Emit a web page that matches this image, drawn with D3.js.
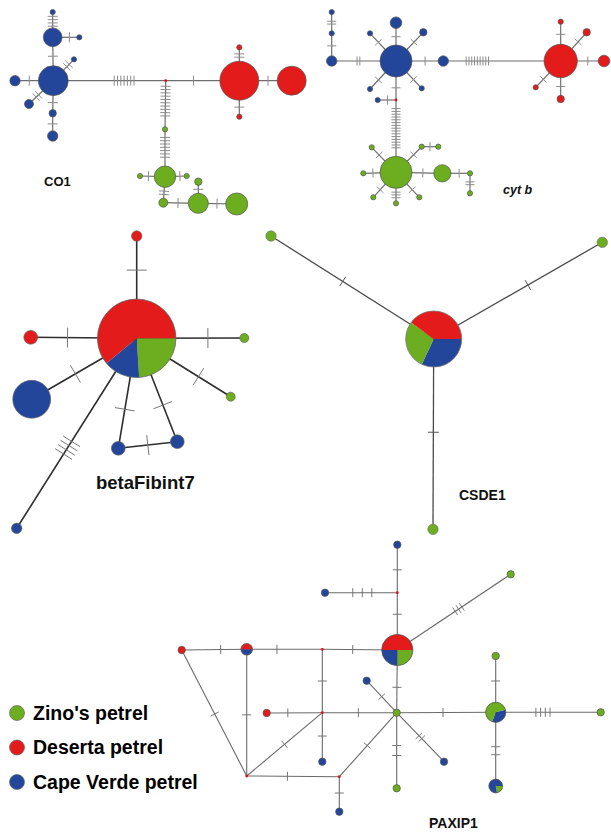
<!DOCTYPE html>
<html>
<head>
<meta charset="utf-8">
<script src="https://cdn.jsdelivr.net/npm/d3@7"></script>
<style>
  body { margin: 0; background: #fff; }
  svg { display: block; font-family: 'Liberation Sans', Arial, sans-serif; }
</style>
</head>
<body>
<svg id="fig"></svg>
<script>
/* global d3 */

const svgWidth = 611
const svgHeight = 833

// Species (legend order) and their colours
const speciesCodes = ['z', 'd', 'c']
const speciesNames = ["Zino's petrel", 'Deserta petrel', 'Cape Verde petrel']
const speciesColors = ['#6cae1f', '#e31b1b', '#23469b']

// Haplotype networks. Nodes: [id, layout x, layout y, sample count, species or pie shares]
// 'mv' marks a median vector (unsampled haplotype).
// Edges: [from, to, mutation steps, tick position (fraction) or null, tick gap or null]
const co1Nodes = [
  ['a', 53.3, 80.7, 33, 'c'], ['b', 52.7, 37.3, 13, 'c'], ['b1', 52.7, 12, 1, 'c'],
  ['b2', 79.3, 37.3, 1, 'c'], ['e', 74, 59.3, 1, 'c'], ['f', 15, 80.7, 4, 'c'],
  ['g', 29, 104, 3, 'c'], ['h', 52.7, 113.3, 2, 'c'], ['i', 52.7, 136, 4, 'c'],
  ['mv1', 165.7, 80.7, 0, 'mv'],
  ['k', 239.3, 80.7, 56, 'd'], ['l', 291.7, 80.7, 31, 'd'], ['m', 239.3, 47.3, 1, 'd'],
  ['o', 239.3, 116.7, 1, 'd'],
  ['p', 165, 129.3, 1, 'z'], ['q', 165, 176.7, 17, 'z'], ['r', 140, 176, 1, 'z'],
  ['s', 186.7, 176, 1, 'z'], ['t', 163.3, 202.7, 3, 'z'], ['u', 198.3, 203.3, 15, 'z'],
  ['v', 236.7, 204, 18, 'z'], ['w', 198.3, 181.7, 2, 'z']
]
const co1Edges = [
  ['a', 'b', 1], ['b', 'b1', 4], ['b', 'b2', 1], ['a', 'e', 2], ['a', 'f', 1], ['a', 'g', 2],
  ['a', 'h', 1], ['h', 'i', 1], ['a', 'mv1', 7, 0.63], ['mv1', 'k', 1], ['k', 'l', 1],
  ['k', 'm', 2], ['k', 'o', 1], ['mv1', 'p', 10, 0.42], ['p', 'q', 7, 0.38], ['q', 'r', 1],
  ['q', 's', 1], ['q', 't', 2], ['t', 'u', 1], ['u', 'v', 1], ['u', 'w', 1]
]

const cytbNodes = [
  ['A', 86, 61, 38, 'c'], ['B', 86, 22.7, 5, 'c'], ['C', 113.3, 32.3, 2, 'c'],
  ['D', 60, 33.3, 1, 'c'], ['E', 133.3, 61, 4, 'c'], ['F', 21.7, 61, 4, 'c'],
  ['G', 21.7, 33.3, 1, 'c'], ['H', 21.7, 12, 1, 'c'], ['I', 60, 89, 1, 'c'],
  ['K', 111.7, 88.3, 1, 'c'], ['mv1', 86, 100, 0, 'mv'], ['L', 67.7, 100, 1, 'c'],
  ['N', 250.7, 61, 41, 'd'], ['O', 250.7, 21.7, 1, 'd'], ['P', 276.7, 32.3, 2, 'd'],
  ['Q', 294, 61, 5, 'd'], ['R', 225.7, 87.3, 1, 'd'], ['S', 250.7, 99, 2, 'd'],
  ['M', 86, 172.3, 38, 'z'], ['T', 61.7, 147.3, 1, 'z'], ['U', 111.7, 146.7, 1, 'z'],
  ['V', 128.3, 146.7, 1, 'z'], ['W', 53.3, 173.3, 1, 'z'], ['X', 132.3, 173.3, 11, 'z'],
  ['Y', 160, 173.3, 1, 'z'], ['Z', 160, 193.3, 1, 'z'], ['AA', 63.3, 197.3, 1, 'z'],
  ['AB', 109.3, 197.3, 1, 'z'], ['AC', 86, 203.3, 1, 'z']
]
const cytbEdges = [
  ['A', 'B', 1], ['A', 'C', 1], ['A', 'D', 1], ['A', 'E', 1], ['A', 'F', 2], ['F', 'G', 1],
  ['G', 'H', 2], ['A', 'I', 1], ['A', 'K', 1], ['A', 'mv1', 1], ['mv1', 'L', 1],
  ['mv1', 'M', 15, 0.39], ['E', 'N', 9, 0.29], ['N', 'O', 1], ['N', 'P', 1], ['N', 'Q', 1],
  ['N', 'R', 1], ['N', 'S', 1], ['M', 'T', 1], ['M', 'U', 1], ['U', 'V', 1], ['M', 'W', 1],
  ['M', 'X', 1], ['X', 'Y', 1], ['Y', 'Z', 2], ['M', 'AA', 1], ['M', 'AB', 1],
  ['M', 'AC', 3, 0.73]
]

const fibNodes = [
  ['hub', 136.7, 118.3, 228, [['z', 0.24], ['c', 0.15], ['d', 0.61]]],
  ['r1', 136.7, 16, 4, 'd'], ['r2', 30.7, 117.3, 7, 'd'], ['g1', 244.3, 118, 3, 'z'],
  ['g2', 230.7, 176.7, 3, 'z'], ['c1', 31.7, 179.3, 53, 'c'], ['c2', 118.3, 228.3, 7, 'c'],
  ['c3', 177.3, 221.7, 7, 'c'], ['c4', 16.7, 308.3, 4, 'c']
]
const fibEdges = [
  ['hub', 'r1', 1], ['hub', 'r2', 1], ['hub', 'g1', 1], ['hub', 'g2', 1], ['hub', 'c1', 1],
  ['hub', 'c2', 1], ['hub', 'c3', 1], ['c2', 'c3', 1], ['hub', 'c4', 4]
]

const csdeNodes = [
  ['hub', 173.7, 119, 116, [['c', 0.32], ['z', 0.28], ['d', 0.40]]],
  ['g1', 11, 16, 4, 'z'], ['g2', 342.3, 22.3, 4, 'z'], ['g3', 173, 309.3, 4, 'z']
]
const csdeEdges = [['hub', 'g1', 1], ['hub', 'g2', 1], ['hub', 'g3', 1, 0.49]]

const paxNodes = [
  ['P', 237.3, 120, 36, [['z', 0.25], ['c', 0.25], ['d', 0.5]]],
  ['p1', 237.3, 14.7, 2, 'c'], ['mv1', 237.3, 62.7, 0, 'mv'], ['p2', 165, 62.7, 2, 'c'],
  ['p3', 350.7, 44.3, 2, 'z'], ['mv2', 162.3, 119.3, 0, 'mv'],
  ['p4', 86.7, 119.3, 5, [['c', 0.5], ['d', 0.5]]], ['p5', 21.7, 120, 2, 'd'],
  ['mv3', 86.7, 246, 0, 'mv'], ['mv4', 162.3, 182.7, 0, 'mv'], ['mv5', 179.3, 246.7, 0, 'mv'],
  ['p6', 179.3, 281.7, 2, 'c'], ['p7', 236.7, 182.7, 2, 'z'], ['p8', 162.3, 231.7, 2, 'c'],
  ['p9', 106.7, 183, 2, 'd'], ['p10', 206.7, 150.7, 2, 'c'], ['p11', 284, 231.7, 2, 'c'],
  ['p12', 236.7, 258.3, 2, 'z'],
  ['P2', 335.7, 182.3, 15, [['c', 0.35], ['z', 0.65]]],
  ['p13', 335.7, 126, 2, 'z'], ['p14', 440.7, 182.3, 2, 'z'],
  ['p15', 335.7, 256, 7, [['z', 0.22], ['c', 0.78]]]
]
const paxEdges = [
  ['P', 'mv1', 1], ['mv1', 'p1', 1], ['mv1', 'p2', 3, null, 9.5], ['P', 'p3', 3, 0.54],
  ['P', 'mv2', 1], ['mv2', 'p4', 1, 0.6], ['p4', 'p5', 1, 0.4], ['p5', 'mv3', 1],
  ['p4', 'mv3', 1], ['mv3', 'mv4', 1], ['mv3', 'mv5', 1, 0.44], ['mv5', 'p6', 1],
  ['mv5', 'p7', 1], ['mv2', 'mv4', 1], ['mv4', 'p8', 1], ['p9', 'mv4', 1, 0.38],
  ['mv4', 'p7', 1], ['P', 'p7', 1], ['p7', 'p10', 1], ['p7', 'p11', 2],
  ['p7', 'p12', 2, null, 10], ['p7', 'P2', 1], ['P2', 'p13', 1], ['P2', 'p14', 4, 0.45, 4.7],
  ['P2', 'p15', 2, null, 8]
]

// Pie start angle (degrees, clockwise from 12 o'clock) for the mixed haplotypes
const pieStart = { fib_hub: 90, csde_hub: 90, pax_P: 90, pax_p4: 90, pax_P2: 75, pax_p15: 90 }

const colorOf = Object.fromEntries(speciesCodes.map((c, i) => [c, speciesColors[i]]))

// Radius proportional to the square root of the sample count
const rScale = d3.scaleSqrt().domain([0, 1]).range([0, 2.6])

const networks = [
  {
    key: 'co1', nodes: co1Nodes, edges: co1Edges, origin: [0, 0],
    line: '#6e6e6e', lineWidth: 1.2, tick: '#8c8c8c', tickLen: 10, tickGap: 3.3, outline: '#555',
    label: { text: 'CO1', x: 44, y: 186, size: 13 }
  },
  {
    key: 'cytb', nodes: cytbNodes, edges: cytbEdges, origin: [310, 0],
    line: '#6e6e6e', lineWidth: 1.2, tick: '#8c8c8c', tickLen: 9, tickGap: 2.8, outline: '#555',
    label: { text: 'cyt b', x: 503, y: 194, size: 12.5, italic: true }
  },
  {
    key: 'fib', nodes: fibNodes, edges: fibEdges, origin: [0, 220],
    line: '#2e2e2e', lineWidth: 1.6, tick: '#777', tickLen: 20, tickGap: 5, outline: '#666',
    label: { text: 'betaFibint7', x: 96, y: 489, size: 18.5 }
  },
  {
    key: 'csde', nodes: csdeNodes, edges: csdeEdges, origin: [260, 220],
    line: '#4a4a4a', lineWidth: 1.3, tick: '#555', tickLen: 11, tickGap: 4, outline: '#777',
    label: { text: 'CSDE1', x: 459, y: 500, size: 14 }
  },
  {
    key: 'pax', nodes: paxNodes, edges: paxEdges, origin: [160, 530],
    line: '#6a6a6a', lineWidth: 1.1, tick: '#777', tickLen: 9, tickGap: 4, outline: '#555',
    label: { text: 'PAXIP1', x: 429, y: 828, size: 14 }
  }
]

const svg = d3.select('#fig')
  .attr('width', svgWidth)
  .attr('height', svgHeight)

svg.append('rect').attr('width', svgWidth).attr('height', svgHeight).attr('fill', '#fff')

function drawNetwork (net) {
  const x = d3.scaleLinear().domain([0, 1]).range([net.origin[0], net.origin[0] + 1])
  const y = d3.scaleLinear().domain([0, 1]).range([net.origin[1], net.origin[1] + 1])

  const byId = new Map(net.nodes.map(d => [d[0], { id: d[0], x: x(d[1]), y: y(d[2]), n: d[3], comp: d[4] }]))
  const radius = d => d.comp === 'mv' ? 1.4 : rScale(d.n)

  const links = net.edges.map(e => ({
    s: byId.get(e[0]), t: byId.get(e[1]), k: e[2], at: e[3], gap: e[4]
  }))

  const g = svg.append('g').attr('class', 'net-' + net.key)

  // Edges
  g.append('g').selectAll('line')
    .data(links)
    .join('line')
    .attr('x1', d => d.s.x).attr('y1', d => d.s.y)
    .attr('x2', d => d.t.x).attr('y2', d => d.t.y)
    .attr('stroke', net.line)
    .attr('stroke-width', net.lineWidth)

  // Mutation steps as ticks across the edges
  const ticks = links.flatMap(l => {
    const dx = l.t.x - l.s.x
    const dy = l.t.y - l.s.y
    const len = Math.hypot(dx, dy)
    const ux = dx / len
    const uy = dy / len
    const c = l.at != null ? l.at * len : (radius(l.s) + len - radius(l.t)) / 2
    const gap = l.gap || net.tickGap
    return d3.range(l.k).map(i => {
      const p = c + (i - (l.k - 1) / 2) * gap
      return { x: l.s.x + ux * p, y: l.s.y + uy * p, nx: -uy, ny: ux }
    })
  })
  const h = net.tickLen / 2
  g.append('g').selectAll('line')
    .data(ticks)
    .join('line')
    .attr('x1', d => d.x - d.nx * h).attr('y1', d => d.y - d.ny * h)
    .attr('x2', d => d.x + d.nx * h).attr('y2', d => d.y + d.ny * h)
    .attr('stroke', net.tick)
    .attr('stroke-width', 1)

  const nodes = [...byId.values()]

  // Median vectors
  g.append('g').selectAll('circle')
    .data(nodes.filter(d => d.comp === 'mv'))
    .join('circle')
    .attr('cx', d => d.x).attr('cy', d => d.y)
    .attr('r', radius)
    .attr('fill', '#d11')

  // Single-species haplotypes
  g.append('g').selectAll('circle')
    .data(nodes.filter(d => typeof d.comp === 'string' && d.comp !== 'mv'))
    .join('circle')
    .attr('cx', d => d.x).attr('cy', d => d.y)
    .attr('r', radius)
    .attr('fill', d => colorOf[d.comp])
    .attr('stroke', net.outline)
    .attr('stroke-width', 0.7)

  // Shared haplotypes as pies
  const shared = nodes.filter(d => Array.isArray(d.comp))
  shared.forEach(d => {
    const start = (pieStart[net.key + '_' + d.id] || 0) * Math.PI / 180
    const pie = d3.pie().sort(null).value(s => s[1])
      .startAngle(start).endAngle(start + 2 * Math.PI)
    const arc = d3.arc().innerRadius(0).outerRadius(radius(d))
    const pg = g.append('g').attr('transform', `translate(${d.x},${d.y})`)
    pg.selectAll('path')
      .data(pie(d.comp))
      .join('path')
      .attr('d', arc)
      .attr('fill', s => colorOf[s.data[0]])
    pg.append('circle')
      .attr('r', radius(d))
      .attr('fill', 'none')
      .attr('stroke', net.outline)
      .attr('stroke-width', 0.8)
  })

  // Marker name
  svg.append('text')
    .attr('x', net.label.x)
    .attr('y', net.label.y)
    .attr('font-size', net.label.size)
    .attr('font-weight', 'bold')
    .attr('font-style', net.label.italic ? 'italic' : 'normal')
    .attr('fill', '#111')
    .text(net.label.text)
}

networks.forEach(drawNetwork)

// Legend
const legend = svg.append('g').attr('class', 'legend')
const legendY = d3.scalePoint().domain(speciesNames).range([713, 782])
const legendRows = legend.selectAll('g')
  .data(speciesNames)
  .join('g')
  .attr('transform', d => `translate(17, ${legendY(d)})`)

legendRows.append('circle')
  .attr('r', 7.5)
  .attr('fill', (d, i) => speciesColors[i])
  .attr('stroke', '#666')
  .attr('stroke-width', 0.7)

legendRows.append('text')
  .attr('x', 16)
  .attr('y', 6.8)
  .attr('font-size', 19.5)
  .attr('font-weight', 'bold')
  .attr('fill', '#000')
  .text(d => d)
</script>
</body>
</html>
